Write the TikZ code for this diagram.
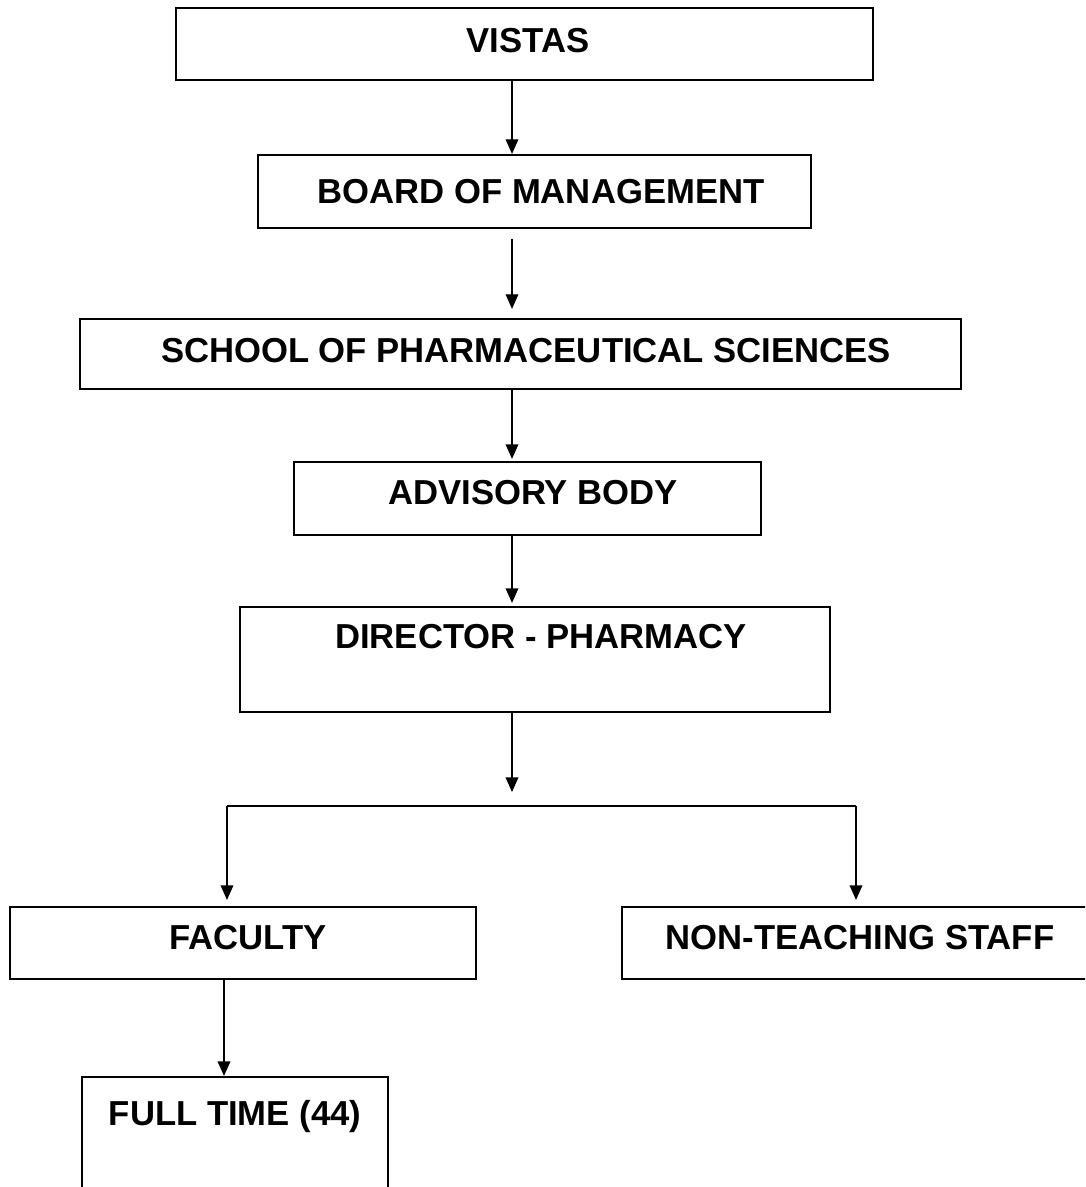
\documentclass[tikz,border=0pt]{standalone}
\usepackage{fontspec}
\setmainfont{Liberation Sans}
\usetikzlibrary{arrows.meta,calc}
\tikzset{
  box/.style={draw=black, line width=1.6pt, inner sep=0pt, fill=none},
  lbl/.style={font=\bfseries\fontsize{26}{30}\selectfont, inner sep=0pt, anchor=base},
  arr/.style={line width=1.1pt, -{Triangle[length=11pt,width=9.5pt]}},
  ln/.style={line width=1.1pt}
}
\begin{document}
\begin{tikzpicture}[x=0.75pt,y=-0.75pt]
\clip (0,0) rectangle (1085,1187);
\fill[white] (0,0) rectangle (1085,1187);
% boxes
\node[box, minimum width=522.75pt, minimum height=54pt]   (vistas) at (524.5,44) {};
\node[box, minimum width=414.75pt, minimum height=54.75pt] (bom)   at (534.5,191.5) {};
\node[box, minimum width=660.75pt, minimum height=52.5pt]  (school) at (520.5,354) {};
\node[box, minimum width=350.25pt, minimum height=54.75pt] (adv)   at (527.5,498.5) {};
\node[box, minimum width=442.5pt, minimum height=78.75pt]  (dir)   at (535,659.5) {};
\node[box, minimum width=349.5pt, minimum height=54pt]     (fac)   at (243,943) {};
\node[box, minimum width=358.5pt, minimum height=54pt]     (nt)    at (861,943) {};
\node[box, minimum width=229.5pt, minimum height=94.5pt]   (ft)    at (235,1140) {};
% labels
\node[lbl] (vistas-t) at (528,53) {VISTAS};
\node[lbl] (bom-t) at (541,204) {BOARD OF MANAGEMENT};
\node[lbl] (school-t) at (526,362) {SCHOOL OF PHARMACEUTICAL SCIENCES};
\node[lbl] (adv-t) at (533,504) {ADVISORY BODY};
\node[lbl] (dir-t) at (541,648) {DIRECTOR - PHARMACY};
\node[lbl] (fac-t) at (248,949) {FACULTY};
\node[lbl] (nt-t) at (860,949) {NON-TEACHING STAFF};
\node[lbl] (ft-t) at (235,1125) {FULL TIME (44)};
% helper coordinates
\coordinate (spine) at (512,0);
\coordinate (fcol) at (224,0);
\coordinate (split) at (512,792);
\coordinate (bl) at (227,806);
\coordinate (br) at (856,806);
% connectors
\draw[arr] (vistas.south -| spine) -- (bom.north -| spine);
\draw[arr] ($(bom.south -| spine)+(0,10)$) -- ($(school.north -| spine)+(0,-9)$);
\draw[arr] (school.south -| spine) -- ($(adv.north -| spine)+(0,-2)$);
\draw[arr] (adv.south -| spine) -- ($(dir.north -| spine)+(0,-3)$);
\draw[arr] (dir.south -| spine) -- (split);
\draw[ln] (bl) -- (br);
\draw[arr] (bl) -- ($(bl |- fac.north)+(0,-6)$);
\draw[arr] (br) -- ($(br |- nt.north)+(0,-6)$);
\draw[arr] (fac.south -| fcol) -- (ft.north -| fcol);
\end{tikzpicture}
\end{document}
